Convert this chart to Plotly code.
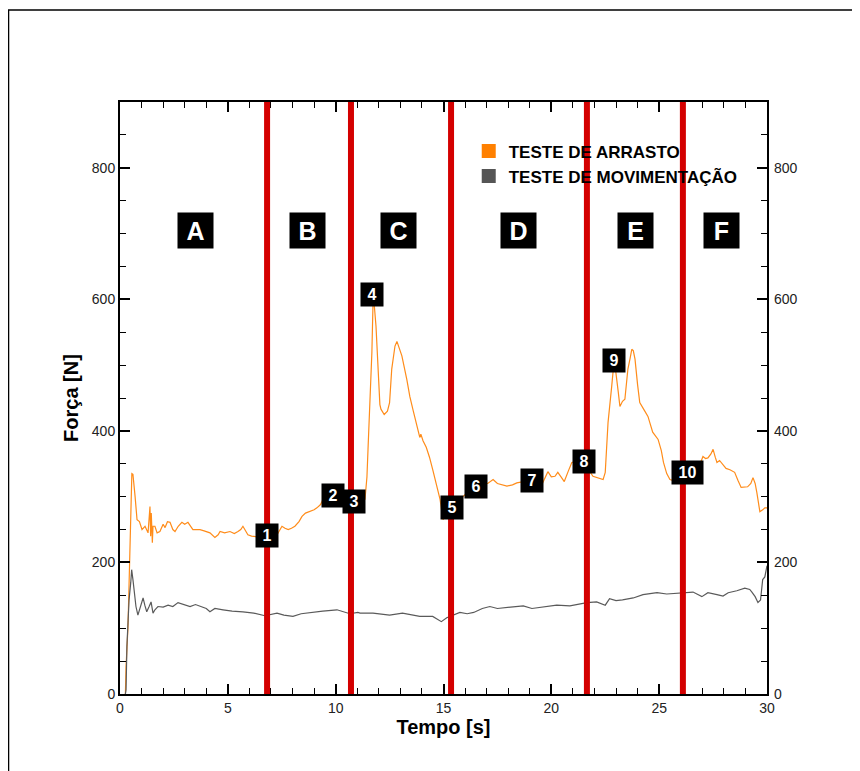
import plotly.graph_objects as go

# ---------------- data ----------------
drag_t = [0.25, 0.28, 0.37, 0.46, 0.52, 0.55, 0.6, 0.65, 0.7, 0.79, 0.9, 1.02, 1.16, 1.3, 1.35, 1.39, 1.42,
          1.45, 1.5, 1.53, 1.62, 1.72, 1.85, 2.0, 2.09, 2.2, 2.32, 2.45, 2.55, 2.7, 2.87, 3.0, 3.15, 3.28,
          3.38, 3.55, 3.71, 3.9, 4.17, 4.4, 4.55, 4.64, 4.85, 5.1, 5.3, 5.47, 5.6, 5.7, 5.8, 5.93, 6.1,
          6.35, 6.55, 6.8, 7.0, 7.15, 7.28, 7.4, 7.51, 7.65, 7.8, 7.95, 8.11, 8.3, 8.44, 8.6, 8.8, 9.0,
          9.13, 9.3, 9.41, 9.6, 9.9, 10.2, 10.43, 10.7, 11.0, 11.2, 11.36, 11.45, 11.5, 11.59, 11.68,
          11.73, 11.78, 11.87, 11.96, 12.05, 12.1, 12.25, 12.4, 12.5, 12.6, 12.75, 12.84, 12.95, 13.07,
          13.3, 13.44, 13.6, 13.75, 13.9, 13.95, 14.05, 14.2, 14.35, 14.5, 14.65, 14.84, 14.98, 15.07,
          15.35, 15.55, 15.76, 15.9, 16.1, 16.3, 16.55, 16.8, 17.05, 17.3, 17.5, 17.7, 17.94, 18.2, 18.4,
          18.7, 18.9, 19.2, 19.6, 19.84, 20.0, 20.17, 20.3, 20.45, 20.6, 20.8, 20.95, 21.2, 21.4, 21.65,
          21.93, 22.2, 22.4, 22.5, 22.63, 22.8, 22.86, 22.95, 23.0, 23.1, 23.18, 23.3, 23.41, 23.55,
          23.65, 23.73, 23.8, 23.88, 24.0, 24.1, 24.3, 24.48, 24.7, 24.95, 25.1, 25.2, 25.35, 25.5, 25.8,
          26.1, 26.4, 26.7, 26.9, 27.03, 27.15, 27.26, 27.4, 27.5, 27.6, 27.68, 27.8, 27.96, 28.1, 28.28,
          28.5, 28.65, 28.8, 29.1, 29.25, 29.35, 29.45, 29.53, 29.67, 29.8, 29.9, 30.0]
drag_f = [0, 41, 102, 214, 300, 335, 334, 320, 300, 265, 262, 250, 255, 245, 275, 285, 240,
          275, 230, 255, 255, 245, 247, 258, 253, 262, 261, 250, 247, 255, 261, 258, 261, 255,
          250, 250, 250, 248, 245, 238, 242, 247, 245, 247, 244, 247, 250, 255, 250, 242, 240,
          239, 237, 236, 240, 238, 242, 250, 255, 252, 250, 252, 255, 262, 270, 275, 277, 280,
          283, 288, 296, 300, 302, 300, 296, 295, 293, 292, 296, 330, 372, 443, 520,
          592, 595, 559, 494, 440, 433, 425, 430, 443, 494, 529, 536, 525, 514,
          478, 452, 430, 410, 390, 395, 385, 375, 360, 341, 320, 296, 265, 270,
          275, 285, 291, 300, 306, 310, 315, 320, 320, 326, 320, 318, 316, 318, 321,
          323, 320, 322, 321, 338, 330, 331, 337, 330, 323, 340, 352, 354, 350, 345,
          331, 328, 326, 337, 413, 468, 489, 500, 483, 460, 437, 445, 448, 494,
          510, 524, 522, 509, 470, 443, 432, 422, 398, 387, 370, 352, 335, 326, 323,
          325, 330, 345, 350, 361, 358, 359, 365, 372, 360, 352, 355, 349, 343, 341,
          337, 325, 314, 315, 320, 329, 320, 306, 277, 280, 283, 283]

move_t = [0.25, 0.28, 0.32, 0.42, 0.5, 0.54, 0.6, 0.67, 0.74, 0.83, 0.95, 1.07, 1.15, 1.24, 1.35, 1.44,
          1.53, 1.62, 1.76, 2.0, 2.23, 2.45, 2.69, 3.0, 3.25, 3.5, 3.8, 4.0, 4.17, 4.4, 4.78, 5.2, 5.7,
          6.2, 6.72, 7.0, 7.28, 7.6, 8.02, 8.4, 8.8, 9.4, 10.06, 10.4, 10.66, 11.03, 11.13, 11.73, 12.1,
          12.5, 13.1, 13.5, 13.9, 14.5, 14.9, 15.15, 15.45, 15.76, 16.1, 16.4, 16.8, 17.15, 17.5, 17.9,
          18.3, 18.7, 19.1, 19.5, 19.9, 20.25, 20.86, 21.3, 21.65, 22.1, 22.5, 22.7, 23.0, 23.3, 23.8,
          24.25, 24.9, 25.35, 25.8, 26.1, 26.57, 26.98, 27.26, 27.68, 27.96, 28.2, 28.6, 28.97, 29.2,
          29.3, 29.45, 29.58, 29.7, 29.8, 29.9, 30.0]
move_f = [0, 6, 72, 143, 170, 189, 174, 150, 133, 120, 135, 146, 135, 125, 133, 140,
          123, 128, 133, 132, 135, 133, 139, 135, 133, 136, 133, 130, 125, 130, 128, 126, 125,
          123, 119, 121, 123, 120, 118, 122, 124, 126, 128, 125, 122, 124, 123, 123, 122,
          120, 123, 120, 118, 118, 110, 116, 120, 124, 122, 124, 130, 133, 130, 131,
          132, 134, 130, 132, 134, 135, 134, 137, 139, 140, 135, 145, 142, 143, 146,
          151, 154, 152, 153, 154, 155, 148, 154, 151, 149, 154, 157, 161, 159,
          155, 148, 139, 143, 174, 178, 195]

phase_bounds = [6.82, 10.71, 15.35, 21.65, 26.1]
phase_names = ["A", "B", "C", "D", "E", "F"]
phase_x = [3.5, 8.7, 12.9, 18.5, 23.9, 27.9]
phase_y = 704

point_names = ["1", "2", "3", "4", "5", "6", "7", "8", "9", "10"]
point_x = [6.82, 9.87, 10.85, 11.68, 15.39, 16.5, 19.1, 21.5, 22.9, 26.3]
point_y = [241, 302, 292, 608, 283, 315, 325, 353, 507, 337]

series_names = ["TESTE DE ARRASTO", "TESTE DE MOVIMENTAÇÃO"]
series_colors = ["#ff8c1a", "#5a5a5a"]
legend_colors = ["#ff8000", "#555555"]

x_ticks = [0, 5, 10, 15, 20, 25, 30]
y_ticks = [0, 200, 400, 600, 800]

# ---------------- figure ----------------
FONT = "Liberation Sans, Arial, sans-serif"
fig = go.Figure()

fig.add_trace(go.Scatter(x=drag_t, y=drag_f, mode="lines", line=dict(color=series_colors[0], width=1.2),
                         showlegend=False, hoverinfo="skip"))
fig.add_trace(go.Scatter(x=move_t, y=move_f, mode="lines", line=dict(color=series_colors[1], width=1.2),
                         showlegend=False, hoverinfo="skip", yaxis="y2"))
for name, col in zip(series_names, legend_colors):
    fig.add_trace(go.Scatter(x=[None], y=[None], mode="markers", name=name,
                             marker=dict(symbol="square", size=14, color=col)))

for b in phase_bounds:
    fig.add_shape(type="line", xref="x", yref="y", x0=b, x1=b, y0=0, y1=900,
                  line=dict(color="#d40000", width=6), layer="above")

for name, px, in zip(phase_names, phase_x):
    fig.add_annotation(x=px, y=phase_y, xref="x", yref="y", text="<b>%s</b>" % name, showarrow=False,
                       bgcolor="black", width=33, height=33,
                       font=dict(family=FONT, size=25, color="white"))

for name, px, py in zip(point_names, point_x, point_y):
    fig.add_annotation(x=px, y=py, xref="x", yref="y", text="<b>%s</b>" % name, showarrow=False,
                       bgcolor="black", width=20 if len(name) == 1 else 29, height=21,
                       font=dict(family=FONT, size=16, color="white"))

# outer frame
fig.add_shape(type="rect", xref="paper", yref="paper", x0=-0.1723, x1=1.2, y0=-0.2, y1=1.1554,
              line=dict(color="black", width=1.5), layer="below")

tickfont = dict(family=FONT, size=14, color="#222")
fig.update_layout(
    width=860, height=771,
    margin=dict(l=112, r=101, t=94, b=85),
    paper_bgcolor="white", plot_bgcolor="white",
    showlegend=True,
    legend=dict(x=0.539, y=0.947, xanchor="left", yanchor="top", bgcolor="rgba(0,0,0,0)",
                font=dict(family=FONT, size=17, color="black", weight="bold"),
                tracegroupgap=0, itemwidth=30),
    xaxis=dict(range=[0, 30], tickvals=x_ticks, ticks="inside", ticklen=10, tickwidth=2,
               tickcolor="black", showline=True, linecolor="black", linewidth=2, mirror="ticks",
               showgrid=False, zeroline=False, tickfont=tickfont,
               minor=dict(dtick=1, ticks="inside", ticklen=6, tickwidth=1, tickcolor="black", showgrid=False),
               title=dict(text="<b>Tempo [s]</b>", font=dict(family=FONT, size=20, color="black"),
                          standoff=5)),
    yaxis=dict(range=[0, 900], tickvals=y_ticks, ticks="inside", ticklen=10, tickwidth=2,
               tickcolor="black", showline=True, linecolor="black", linewidth=2, mirror=True,
               showgrid=False, zeroline=False, tickfont=tickfont,
               minor=dict(dtick=50, ticks="inside", ticklen=6, tickwidth=1, tickcolor="black", showgrid=False),
               title=dict(text="<b>Força [N]</b>", font=dict(family=FONT, size=20, color="black"),
                          standoff=8)),
    yaxis2=dict(range=[0, 900], overlaying="y", side="right", tickvals=y_ticks, ticks="inside",
                ticklen=10, tickwidth=2, tickcolor="black", showline=False, showgrid=False,
                zeroline=False, tickfont=tickfont, ticklabelstandoff=6,
                minor=dict(dtick=50, ticks="inside", ticklen=6, tickwidth=1, tickcolor="black", showgrid=False)),
)

fig.write_html("out.html")
